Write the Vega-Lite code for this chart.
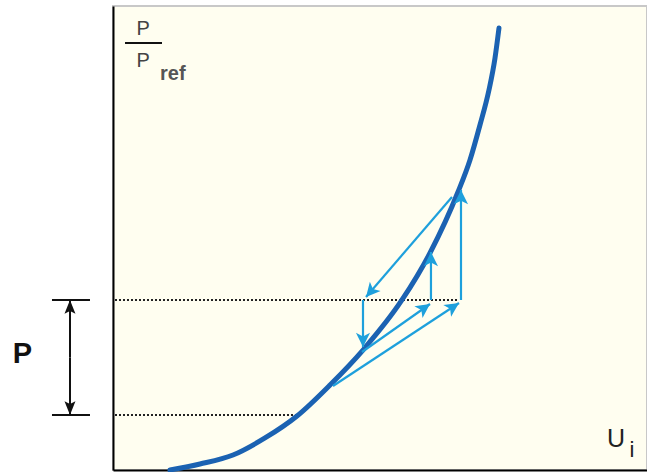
{
  "$schema": "https://vega.github.io/schema/vega-lite/v6.json",
  "width": 534,
  "height": 464,
  "autosize": {"type": "none"},
  "padding": {"left": 113, "top": 6, "right": 0, "bottom": 2},
  "background": "white",
  "config": {
    "view": {"fill": "#fffef0", "stroke": "#c8c8c8", "strokeWidth": 2},
    "axis": {"domain": true, "domainColor": "black", "domainWidth": 2, "ticks": false, "labels": false, "grid": false, "title": null},
    "text": {"font": "Liberation Sans"}
  },
  "datasets": {
    "curve": [
      {"u": 12.28, "p": 0},
      {"u": 18.75, "p": 1.29},
      {"u": 25.86, "p": 3.23},
      {"u": 32.76, "p": 6.9},
      {"u": 39.66, "p": 11.64},
      {"u": 46.77, "p": 18.32},
      {"u": 53.88, "p": 25.86},
      {"u": 62.28, "p": 36.64},
      {"u": 68.32, "p": 46.77},
      {"u": 74.35, "p": 59.91},
      {"u": 76.94, "p": 66.81},
      {"u": 79.09, "p": 74.35},
      {"u": 81.03, "p": 81.9},
      {"u": 82.33, "p": 88.79},
      {"u": 83.19, "p": 95.26}
    ],
    "cyanArrows": [
      {"x": 75.0, "y": 36.64, "x2": 75.0, "y2": 60.34},
      {"x": 73.06, "y": 58.84, "x2": 54.53, "y2": 37.28},
      {"x": 53.88, "y": 36.64, "x2": 53.88, "y2": 26.51},
      {"x": 53.66, "y": 25.43, "x2": 68.32, "y2": 35.78},
      {"x": 68.53, "y": 36.64, "x2": 68.53, "y2": 46.98},
      {"x": 47.41, "y": 18.1, "x2": 74.57, "y2": 35.99}
    ],
    "blackArrows": [
      {"x": -9.27, "y": 24.25, "x2": -9.27, "y2": 36.64},
      {"x": -9.27, "y": 24.25, "x2": -9.27, "y2": 11.85}
    ],
    "dots": [
      {"x": 0.43, "x2": 74.35, "y": 36.64},
      {"x": 0.43, "x2": 39.44, "y": 11.85}
    ],
    "ticks": [
      {"x": -13.15, "x2": -4.96, "y": 36.64},
      {"x": -13.15, "x2": -4.96, "y": 11.85},
      {"x": 2.59, "x2": 10.56, "y": 92.03}
    ]
  },
  "layer": [
    {
      "data": {"name": "dots"},
      "mark": {"type": "rule", "color": "#222222", "strokeWidth": 2, "strokeDash": [2, 2]},
      "encoding": {
        "x": {"field": "x", "type": "quantitative", "scale": {"domain": [0, 115.09], "nice": false, "zero": false}, "axis": {"orient": "bottom"}},
        "x2": {"field": "x2"},
        "y": {"field": "y", "type": "quantitative", "scale": {"domain": [0, 100], "nice": false, "zero": false}, "axis": {"orient": "left"}}
      }
    },
    {
      "data": {"name": "ticks"},
      "mark": {"type": "rule", "color": "#111111", "strokeWidth": 2},
      "encoding": {
        "x": {"field": "x", "type": "quantitative"},
        "x2": {"field": "x2"},
        "y": {"field": "y", "type": "quantitative"}
      }
    },
    {
      "data": {"name": "curve"},
      "mark": {"type": "line", "color": "#1b62b2", "strokeWidth": 5, "interpolate": "monotone", "strokeCap": "round"},
      "encoding": {
        "x": {"field": "u", "type": "quantitative"},
        "y": {"field": "p", "type": "quantitative"}
      }
    },
    {
      "data": {"name": "cyanArrows"},
      "mark": {"type": "rule", "color": "#1ea0dc", "strokeWidth": 2.2},
      "encoding": {
        "x": {"field": "x", "type": "quantitative"},
        "y": {"field": "y", "type": "quantitative"},
        "x2": {"field": "x2"},
        "y2": {"field": "y2"}
      }
    },
    {
      "data": {"name": "cyanArrows"},
      "transform": [{"calculate": "atan2(datum.x2 - datum.x, datum.y2 - datum.y) * 180 / PI", "as": "ang"}],
      "mark": {"type": "point", "shape": "M0,0L-0.5,1L0,0.75L0.5,1Z", "filled": true, "color": "#1ea0dc", "opacity": 1, "size": 800},
      "encoding": {
        "x": {"field": "x2", "type": "quantitative"},
        "y": {"field": "y2", "type": "quantitative"},
        "angle": {"field": "ang", "type": "quantitative", "scale": null}
      }
    },
    {
      "data": {"name": "blackArrows"},
      "mark": {"type": "rule", "color": "#111111", "strokeWidth": 2},
      "encoding": {
        "x": {"field": "x", "type": "quantitative"},
        "y": {"field": "y", "type": "quantitative"},
        "x2": {"field": "x2"},
        "y2": {"field": "y2"}
      }
    },
    {
      "data": {"name": "blackArrows"},
      "transform": [{"calculate": "atan2(datum.x2 - datum.x, datum.y2 - datum.y) * 180 / PI", "as": "ang"}],
      "mark": {"type": "point", "shape": "M0,0L-0.4,1L0,0.8L0.4,1Z", "filled": true, "color": "#111111", "opacity": 1, "size": 750},
      "encoding": {
        "x": {"field": "x2", "type": "quantitative"},
        "y": {"field": "y2", "type": "quantitative"},
        "angle": {"field": "ang", "type": "quantitative", "scale": null}
      }
    },
    {
      "data": {"values": [{"t": "P", "x": 6.5, "y": 93.75}, {"t": "P", "x": 6.5, "y": 86.85}]},
      "mark": {"type": "text", "fontSize": 20, "align": "center", "baseline": "alphabetic", "color": "#444444"},
      "encoding": {
        "x": {"field": "x", "type": "quantitative"},
        "y": {"field": "y", "type": "quantitative"},
        "text": {"field": "t"}
      }
    },
    {
      "data": {"values": [{"t": "ref", "x": 10.13, "y": 84.05}]},
      "mark": {"type": "text", "fontSize": 20, "fontWeight": "bold", "align": "left", "baseline": "alphabetic", "color": "#555555"},
      "encoding": {
        "x": {"field": "x", "type": "quantitative"},
        "y": {"field": "y", "type": "quantitative"},
        "text": {"field": "t"}
      }
    },
    {
      "data": {"values": [{"t": "U", "x": 108.4, "y": 4.96}]},
      "mark": {"type": "text", "fontSize": 25, "align": "center", "baseline": "alphabetic", "color": "#222222"},
      "encoding": {
        "x": {"field": "x", "type": "quantitative"},
        "y": {"field": "y", "type": "quantitative"},
        "text": {"field": "t"}
      }
    },
    {
      "data": {"values": [{"t": "i", "x": 111.3, "y": 2.8}]},
      "mark": {"type": "text", "fontSize": 22, "align": "left", "baseline": "alphabetic", "color": "#222222"},
      "encoding": {
        "x": {"field": "x", "type": "quantitative"},
        "y": {"field": "y", "type": "quantitative"},
        "text": {"field": "t"}
      }
    },
    {
      "data": {"values": [{"t": "P", "x": -19.5, "y": 23.06}]},
      "mark": {"type": "text", "fontSize": 29, "fontWeight": "bold", "align": "center", "baseline": "alphabetic", "color": "#111111"},
      "encoding": {
        "x": {"field": "x", "type": "quantitative"},
        "y": {"field": "y", "type": "quantitative"},
        "text": {"field": "t"}
      }
    }
  ]
}
